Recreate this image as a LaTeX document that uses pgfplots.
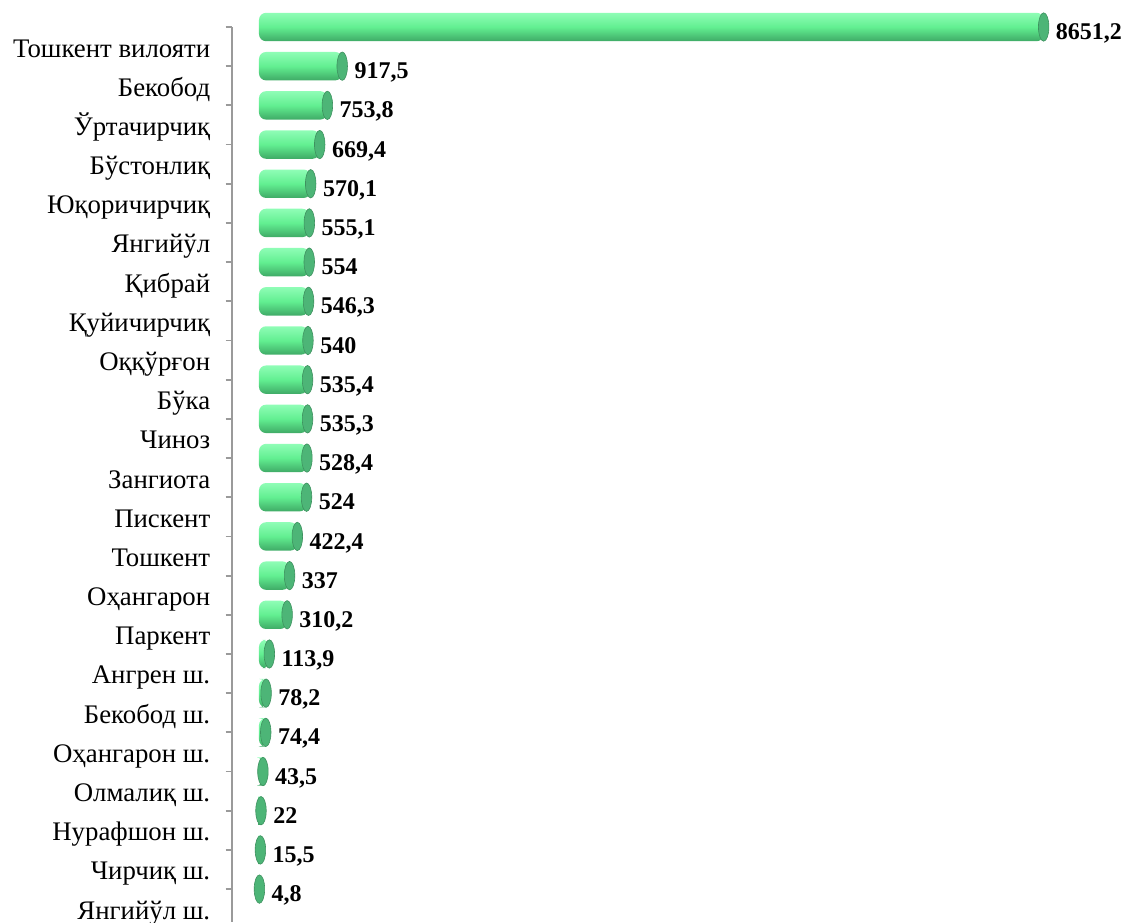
\documentclass[border=0pt]{standalone}
\usepackage{fontspec}
\setmainfont{Liberation Serif}
\usepackage{pgfplots}
\usepackage{pgfplotstable}
\pgfplotsset{compat=1.18}
\definecolor{barTop}{HTML}{8FFDB6}
\definecolor{barMid}{HTML}{62EF91}
\definecolor{barBot}{HTML}{3FAA66}
\definecolor{capG}{HTML}{4DB577}
\definecolor{axG}{HTML}{9A9A9A}
\pgfplotstableread{
y x lab
0 8651.2 8651,2
1 917.5 917,5
2 753.8 753,8
3 669.4 669,4
4 570.1 570,1
5 555.1 555,1
6 554 554
7 546.3 546,3
8 540 540
9 535.4 535,4
10 535.3 535,3
11 528.4 528,4
12 524 524
13 422.4 422,4
14 337 337
15 310.2 310,2
16 113.9 113,9
17 78.2 78,2
18 74.4 74,4
19 43.5 43,5
20 22 22
21 15.5 15,5
22 4.8 4,8
}\data
\begin{document}
\begin{tikzpicture}
\begin{axis}[
 scale only axis, width=434pt, height=447.5pt,
 xmin=-297.7, xmax=9272, ymin=0, ymax=22.84,
 y dir=reverse,
 axis x line=none,
 axis y line*=left,
 y axis line style={axG, line width=0.9pt},
 ytick={0,...,22},
 yticklabels={Тошкент вилояти,Бекобод,Ўртачирчиқ,Бўстонлиқ,Юқоричирчиқ,Янгийўл,Қибрай,Қуйичирчиқ,Оққўрғон,Бўка,Чиноз,Зангиота,Пискент,Тошкент,Оҳангарон,Паркент,Ангрен ш.,Бекобод ш.,Оҳангарон ш.,Олмалиқ ш.,Нурафшон ш.,Чирчиқ ш.,Янгийўл ш.},
 tick align=outside,
 major tick length=3.2pt,
 ytick style={axG, line width=0.9pt},
 yticklabel style={anchor=base east, inner sep=0pt, xshift=-7.5pt, yshift=-15pt, font=\fontsize{13.4}{15}\selectfont},
 clip=false,
]
\pgfplotsinvokeforeach{0,...,22}{
\addplot[xbar, bar width=14.2pt, bar shift=0pt, draw=none, top color=barTop, bottom color=barBot, middle color=barMid, rounded corners=3.5pt, y filter/.expression={abs(y-#1)<0.1 ? y : nan}] table[x=x,y=y]{\data};
}
\addplot[only marks, mark=*, mark size=7.1pt, mark options={xscale=0.37, fill=capG, draw=capG!80!black, line width=0.3pt}, nodes near coords, point meta=explicit symbolic, nodes near coords style={anchor=base west, inner sep=0pt, xshift=6pt, yshift=-6.3pt, font=\bfseries\fontsize{12}{13}\selectfont, text=black}] table[x=x,y=y,meta=lab]{\data};
\end{axis}
\pgfresetboundingbox
\path[use as bounding box] (current axis.south west) ++(-116pt,0) rectangle ++(562.5pt,461pt);
\end{tikzpicture}
\end{document}
